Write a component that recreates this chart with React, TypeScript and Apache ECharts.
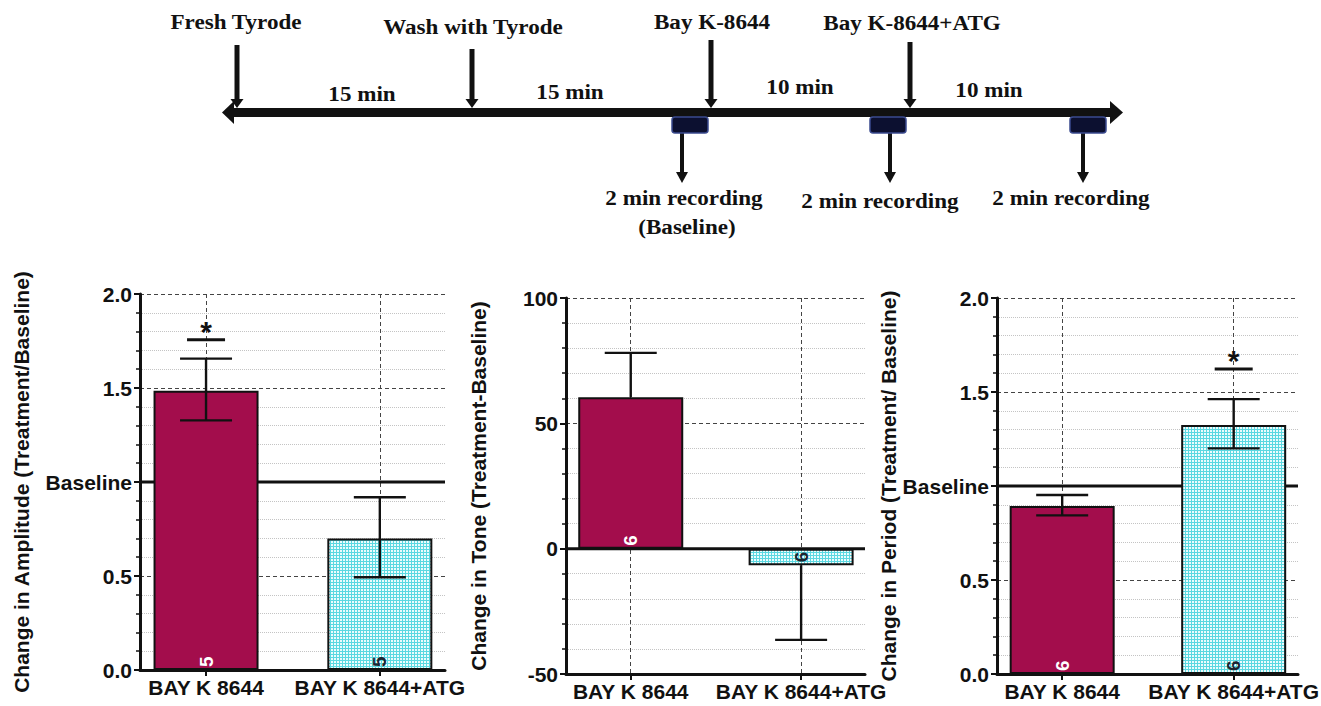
import React, { useEffect, useRef } from 'react';
import * as echarts from 'echarts';

// ---------- data ----------
const categories = ['BAY K 8644', 'BAY K 8644+ATG'];

const ampMean = [1.485, 0.70];
const ampLow = [1.328, 0.493];
const ampHigh = [1.656, 0.919];
const ampN = [5, 5];
const ampSig = [1.757, null];

const toneMean = [60.4, -6.6];
const toneLow = [60.4, -36.4];
const toneHigh = [78.1, -6.6];
const toneN = [6, 6];
const toneSig = [null, null];

const periodMean = [0.894, 1.324];
const periodLow = [0.844, 1.20];
const periodHigh = [0.952, 1.462];
const periodN = [6, 6];
const periodSig = [null, 1.623];

const ratioRange = [0, 2, 0.5];
const toneRange = [-50, 100, 50];
const baselineValue = 1;
const zeroValue = 0;

const eventLabels = ['Fresh Tyrode', 'Wash with Tyrode', 'Bay K-8644', 'Bay K-8644+ATG'];
const intervalLabels = ['15 min', '15 min', '10 min', '10 min'];
const recordingLabels = ['2 min recording', '2 min recording', '2 min recording'];
const recordingNote = '(Baseline)';

// ---------- styles ----------
const SANS = '"Liberation Sans", Arial, Helvetica, sans-serif';
const SERIF = '"Liberation Serif", "Times New Roman", serif';
const INK = '#111';
const CRIMSON = '#a30d4c';
const XMIN = -0.38;
const XMAX = 1.375;

function ratioFmt(v: number) {
  return Math.abs(v - 1) < 1e-9 ? 'Baseline' : v.toFixed(1);
}
function intFmt(v: number) {
  return String(Math.round(v));
}

function makeCyanPattern() {
  const c = document.createElement('canvas');
  c.width = 3;
  c.height = 3;
  const ctx = c.getContext('2d')!;
  ctx.fillStyle = '#ecfcfd';
  ctx.fillRect(0, 0, 3, 3);
  ctx.fillStyle = '#5cd8e1';
  ctx.fillRect(0, 0, 3, 1);
  ctx.fillRect(0, 0, 1, 3);
  return { image: c, repeat: 'repeat', imageWidth: 3, imageHeight: 3 } as any;
}

function ttext(text: string, x: number, y: number) {
  return {
    type: 'text',
    x,
    y,
    scaleX: 1.1,
    z: 10,
    style: {
      text,
      fontFamily: SERIF,
      fontWeight: 'bold',
      fontSize: 21,
      fill: INK,
      align: 'center',
      verticalAlign: 'middle',
    },
  };
}

function downArrow(x: number, y1: number, y2: number, shaftW: number, headW: number, headH: number) {
  return [
    { type: 'rect', z: 10, shape: { x: x - shaftW / 2, y: y1, width: shaftW, height: y2 - headH - y1 + 1 }, style: { fill: INK } },
    {
      type: 'polygon',
      z: 10,
      shape: { points: [[x - headW / 2, y2 - headH], [x + headW / 2, y2 - headH], [x, y2]] },
      style: { fill: INK },
    },
  ];
}

function recBox(x: number, y: number) {
  return {
    type: 'rect',
    z: 11,
    shape: { x, y, width: 36, height: 16, r: 3 },
    style: { fill: '#0c1030', stroke: '#3a4a8e', lineWidth: 1.5 },
  };
}

export default function App() {
  const ref = useRef<HTMLDivElement>(null);

  useEffect(() => {
    if (!ref.current) return;
    const chart = echarts.init(ref.current, null, { renderer: 'svg' });
    const cyan = makeCyanPattern();

    const panels = [
      {
        mean: ampMean, low: ampLow, high: ampHigh, n: ampN, sig: ampSig,
        range: ratioRange, ref: baselineValue, fmt: ratioFmt,
        name: 'Change in Amplitude (Treatment/Baseline)',
        grid: { left: 140, top: 294, width: 305, height: 376 }, nameGap: 108,
      },
      {
        mean: toneMean, low: toneLow, high: toneHigh, n: toneN, sig: toneSig,
        range: toneRange, ref: zeroValue, fmt: intFmt,
        name: 'Change in Tone (Treatment-Baseline)',
        grid: { left: 566, top: 298, width: 299, height: 376 }, nameGap: 77,
      },
      {
        mean: periodMean, low: periodLow, high: periodHigh, n: periodN, sig: periodSig,
        range: ratioRange, ref: baselineValue, fmt: ratioFmt,
        name: 'Change in Period (Treatment/ Baseline)',
        grid: { left: 997, top: 298, width: 301, height: 376 }, nameGap: 98,
      },
    ];

    const grid: any[] = [];
    const xAxis: any[] = [];
    const yAxis: any[] = [];
    const series: any[] = [];

    panels.forEach((p, k) => {
      grid.push({ ...p.grid, containLabel: false, outerBoundsMode: 'none' });
      xAxis.push({
        type: 'value',
        gridIndex: k,
        min: XMIN,
        max: XMAX,
        axisLine: { show: true, onZero: false, lineStyle: { color: INK, width: 3 } },
        axisTick: { show: true, customValues: [0, 1], length: 6, lineStyle: { color: INK, width: 2 } },
        axisLabel: {
          customValues: [0, 1],
          formatter: (v: number) => categories[Math.round(v)] ?? '',
          fontFamily: SANS,
          fontSize: 21,
          fontWeight: 'bold',
          color: INK,
          margin: 7,
        },
        splitLine: { show: true, lineStyle: { color: '#444', type: [4, 3], width: 1 } },
        minorTick: { show: false },
        minorSplitLine: { show: false },
      });
      yAxis.push({
        type: 'value',
        gridIndex: k,
        min: p.range[0],
        max: p.range[1],
        interval: p.range[2],
        name: p.name,
        nameLocation: 'middle',
        nameRotate: 90,
        nameGap: p.nameGap,
        nameTextStyle: { fontFamily: SANS, fontSize: 21, fontWeight: 'bold', color: INK },
        axisLine: { show: true, onZero: false, lineStyle: { color: INK, width: 3 } },
        axisTick: { show: true, length: 6, lineStyle: { color: INK, width: 2 } },
        minorTick: { show: true, splitNumber: 5, length: 4, lineStyle: { color: INK, width: 1.5 } },
        axisLabel: {
          formatter: p.fmt,
          fontFamily: SANS,
          fontSize: 21,
          fontWeight: 'bold',
          color: INK,
          margin: 8,
        },
        splitLine: { show: true, lineStyle: { color: '#444', type: [4, 3], width: 1 } },
        minorSplitLine: { show: true, lineStyle: { color: '#c4c4c4', type: 'dotted', width: 1 } },
      });

      // reference line (baseline / zero) behind bars
      series.push({
        type: 'line',
        xAxisIndex: k,
        yAxisIndex: k,
        z: 1,
        symbol: 'none',
        silent: true,
        lineStyle: { color: INK, width: 3 },
        data: [[XMIN, p.ref], [XMAX, p.ref]],
      });

      series.push({
        type: 'bar',
        xAxisIndex: k,
        yAxisIndex: k,
        z: 3,
        barWidth: 105,
        data: p.mean.map((v, i) => ({
          value: [i, v],
          itemStyle: { color: i === 0 ? CRIMSON : cyan, borderColor: INK, borderWidth: 2 },
          label:
            v < 0
              ? { position: 'inside', align: 'center', verticalAlign: 'middle', color: '#1c2430' }
              : { color: i === 0 ? '#ffffff' : '#1c2430' },
        })),
        label: {
          show: true,
          position: 'insideBottom',
          distance: 3,
          rotate: 90,
          align: 'left',
          verticalAlign: 'middle',
          fontFamily: SANS,
          fontSize: 19,
          fontWeight: 'bold',
          formatter: (params: any) => String(p.n[params.dataIndex]),
        },
      });

      series.push({
        type: 'custom',
        xAxisIndex: k,
        yAxisIndex: k,
        z: 5,
        silent: true,
        encode: { x: 0, y: [1, 2, 3] },
        data: p.mean.map((m, i) => [i, p.low[i], p.high[i], m]),
        renderItem: (_params: any, api: any) => {
          const x = api.value(0);
          const lo = api.value(1);
          const hi = api.value(2);
          const m = api.value(3);
          const a = api.coord([x, lo]);
          const b = api.coord([x, hi]);
          const hw = 26;
          const style = { stroke: INK, lineWidth: 2.4 };
          const children: any[] = [
            { type: 'line', shape: { x1: a[0], y1: a[1], x2: b[0], y2: b[1] }, style },
          ];
          if (lo !== m) children.push({ type: 'line', shape: { x1: a[0] - hw, y1: a[1], x2: a[0] + hw, y2: a[1] }, style });
          if (hi !== m) children.push({ type: 'line', shape: { x1: b[0] - hw, y1: b[1], x2: b[0] + hw, y2: b[1] }, style });
          return { type: 'group', children };
        },
      });

      const sigData = p.sig
        .map((s, i) => (s == null ? null : [i, s]))
        .filter((d) => d != null);
      if (sigData.length) {
        series.push({
          type: 'custom',
          xAxisIndex: k,
          yAxisIndex: k,
          z: 6,
          silent: true,
          encode: { x: 0, y: 1 },
          data: sigData,
          renderItem: (_params: any, api: any) => {
            const c = api.coord([api.value(0), api.value(1)]);
            return {
              type: 'group',
              children: [
                { type: 'line', shape: { x1: c[0] - 19, y1: c[1], x2: c[0] + 19, y2: c[1] }, style: { stroke: INK, lineWidth: 3 } },
                {
                  type: 'text',
                  x: c[0],
                  y: c[1] - 8,
                  style: {
                    text: '*',
                    fontFamily: SANS,
                    fontSize: 30,
                    fontWeight: 'bold',
                    fill: INK,
                    align: 'center',
                    verticalAlign: 'middle',
                  },
                },
              ],
            };
          },
        });
      }
    });

    // ---------- timeline diagram ----------
    const eventX = [237, 472, 711, 910];
    const eventTop = [45, 49, 40, 42];
    const eventTextPos = [[236, 22], [473, 27], [712, 22], [912, 23]];
    const intervalPos = [[362, 94], [570, 92], [800, 87], [989, 90]];
    const boxX = [672, 870, 1070];
    const recX = [682, 890, 1083];
    const recTextPos = [[684, 198], [880, 201], [1071, 198]];

    const graphic: any[] = [];
    graphic.push({ type: 'rect', z: 10, shape: { x: 230, y: 108, width: 882, height: 9 }, style: { fill: INK } });
    graphic.push({ type: 'polygon', z: 10, shape: { points: [[222, 112.5], [234, 101], [234, 124]] }, style: { fill: INK } });
    graphic.push({ type: 'polygon', z: 10, shape: { points: [[1123, 112.5], [1110, 101], [1110, 124]] }, style: { fill: INK } });
    eventLabels.forEach((t, i) => {
      graphic.push(ttext(t, eventTextPos[i][0], eventTextPos[i][1]));
      graphic.push(...downArrow(eventX[i], eventTop[i], 108, 5, 13, 9));
    });
    intervalLabels.forEach((t, i) => graphic.push(ttext(t, intervalPos[i][0], intervalPos[i][1])));
    recordingLabels.forEach((t, i) => {
      graphic.push(recBox(boxX[i], 117));
      graphic.push(...downArrow(recX[i], 133, 183, 4, 12, 11));
      graphic.push(ttext(t, recTextPos[i][0], recTextPos[i][1]));
    });
    graphic.push(ttext(recordingNote, 687, 227));

    chart.setOption({
      animation: false,
      backgroundColor: '#ffffff',
      grid,
      xAxis,
      yAxis,
      series,
      graphic,
    });

    return () => chart.dispose();
  }, []);

  return (
    <div
      ref={ref}
      style={{ position: 'fixed', left: 0, top: 0, width: 1321, height: 706, background: '#fff' }}
    />
  );
}
